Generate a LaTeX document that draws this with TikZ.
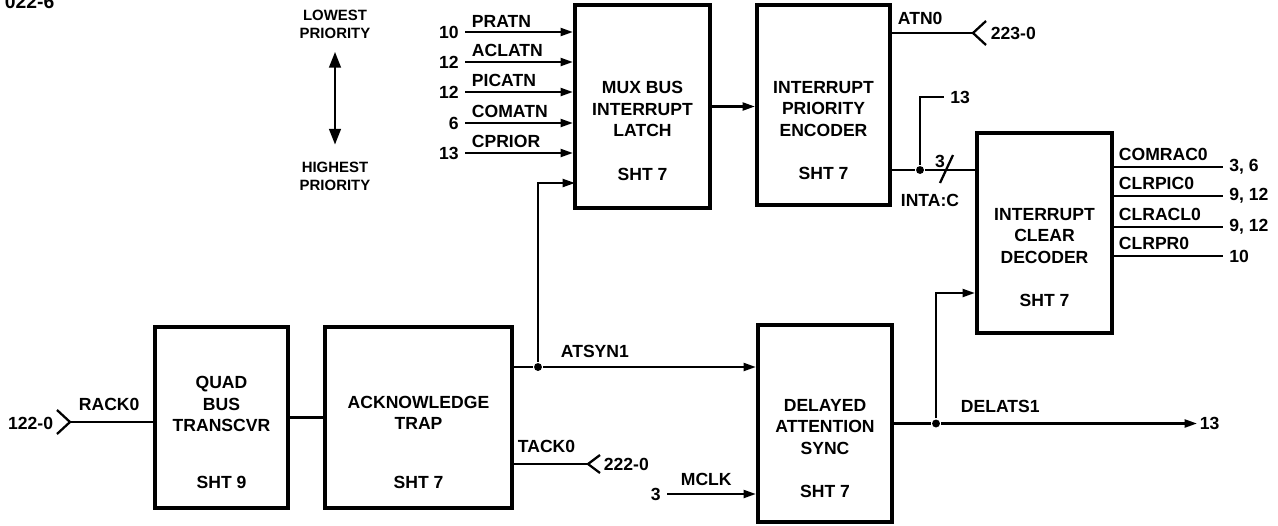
\documentclass[tikz,border=0pt]{standalone}
\usepackage{fontspec}
\setmainfont{Liberation Sans}
\usepackage{tikz}
\usetikzlibrary{arrows.meta}

\begin{document}
\begin{tikzpicture}[x=0.02cm,y=-0.02cm,
  >={Triangle[length=7pt,width=4.5pt]},
  line width=1.3pt,
  every node/.style={font=\fontsize{10}{12}\selectfont\bfseries, inner sep=1pt},
  blk/.style={draw, line width=2.4pt, inner sep=0pt},
  txt/.style={align=center},
  num/.style={inner xsep=3pt},
  prio/.style={align=center, font=\fontsize{8.5}{10.3}\selectfont\bfseries},
  dot/.style={circle, fill, inner sep=0pt, minimum size=4.5pt}]
  \useasboundingbox (0,0) rectangle (1278,525);

  \node[anchor=base west, font=\fontsize{11}{13}\selectfont\bfseries] (sheet) at (2,8) {022-6};

  % priority legend
  \node[prio] (low) at (335,24) {LOWEST\\PRIORITY};
  \node[prio] (high) at (335,176) {HIGHEST\\PRIORITY};
  \draw[{Triangle[length=9pt,width=6.5pt]}-{Triangle[length=9pt,width=6.5pt]},
    line width=1.6pt, shorten <=6pt, shorten >=8pt] (low) -- (high);

  % blocks
  \node[blk, minimum width=2.66cm, minimum height=3.62cm] (quad) at (221.5,417.5) {};
  \node[txt] (quadt) at (221.5,404) {QUAD\\BUS\\TRANSCVR};
  \node (quads) at (221.5,482) {SHT 9};

  \node[blk, minimum width=3.74cm, minimum height=3.62cm] (ack) at (418.5,417.5) {};
  \node[txt] (ackt) at (418.5,413) {ACKNOWLEDGE\\TRAP};
  \node (acks) at (418.5,482) {SHT 7};

  \node[blk, minimum width=2.7cm, minimum height=4.06cm] (mux) at (642.5,106.5) {};
  \node[txt] (muxt) at (642.5,109) {MUX BUS\\INTERRUPT\\LATCH};
  \node (muxs) at (642.5,174) {SHT 7};

  \node[blk, minimum width=2.66cm, minimum height=4cm] (enc) at (823.5,105) {};
  \node[txt] (enct) at (823.5,109) {INTERRUPT\\PRIORITY\\ENCODER};
  \node (encs) at (823.5,173) {SHT 7};

  \node[blk, minimum width=2.7cm, minimum height=4cm] (dec) at (1044.5,233) {};
  \node[txt] (dect) at (1044.5,236) {INTERRUPT\\CLEAR\\DECODER};
  \node (decs) at (1044.5,300) {SHT 7};

  \node[blk, minimum width=2.68cm, minimum height=3.94cm] (del) at (825,423.5) {};
  \node[txt] (delt) at (825,427) {DELAYED\\ATTENTION\\SYNC};
  \node (dels) at (825,491) {SHT 7};

  % RACK0 in
  \coordinate (c122) at (70,422);
  \node[anchor=east] (s122) at (56,423) {122-0};
  \draw (c122) ++(-13,-12) -- (c122) -- ++(-13,12);
  \draw (c122) -- (c122 -| quad.west);
  \node[anchor=south west] (rack) at (76,414) {RACK0};
  \draw (quad) -- (ack);

  % mux inputs
  \node[num, anchor=east] (i10) at (465,32) {10};
  \draw[->] (i10) -- (i10 -| mux.west);
  \node[anchor=south west] (pratn) at (469,30) {PRATN};
  \node[num, anchor=east] (i12a) at (465,62) {12};
  \draw[->] (i12a) -- (i12a -| mux.west);
  \node[anchor=south west] (aclatn) at (469,60) {ACLATN};
  \node[num, anchor=east] (i12b) at (465,92) {12};
  \draw[->] (i12b) -- (i12b -| mux.west);
  \node[anchor=south west] (picatn) at (469,90) {PICATN};
  \node[num, anchor=east] (i6) at (465,123) {6};
  \draw[->] (i6) -- (i6 -| mux.west);
  \node[anchor=south west] (comatn) at (469,121) {COMATN};
  \node[num, anchor=east] (i13) at (465,153) {13};
  \draw[->] (i13) -- (i13 -| mux.west);
  \node[anchor=south west] (cprior) at (469,151) {CPRIOR};
  \draw[->] (mux.east) -- (mux.east -| enc.west);

  % ATSYN1
  \node[dot] (jat) at (538,367) {};
  \coordinate (mxin) at (575,183);
  \draw (ack.east |- jat) -- (jat);
  \draw[->] (jat) -- (jat -| del.west);
  \draw[->] (jat) |- (mxin);
  \node[anchor=south west] (atsyn) at (558,361) {ATSYN1};

  % TACK0
  \coordinate (c222) at (588,464);
  \draw (ack.east |- c222) -- (c222);
  \draw (c222) ++(12,-9) -- (c222) -- ++(12,9);
  \node[anchor=west] (s222) at (601,464) {222-0};
  \node[anchor=south west] (tack) at (515,456) {TACK0};

  % MCLK
  \node[num, anchor=east] (m3) at (667,494) {3};
  \draw[->] (m3) -- (m3 -| del.west);
  \node[anchor=south west] (mclk) at (678,489) {MCLK};

  % DELATS1
  \node[dot] (jdl) at (936,423.5) {};
  \node[anchor=west] (o13) at (1197,423.5) {13};
  \coordinate (decin) at (dec.west |- 0,293);
  \draw (del.east) -- (jdl);
  \draw[->] (jdl) -- (o13);
  \draw[->] (jdl) |- (decin);
  \node[anchor=south west] (delats) at (958,416) {DELATS1};

  % ATN0
  \coordinate (c223) at (973,33);
  \draw (enc.east |- c223) -- (c223);
  \draw (c223) ++(13,-12) -- (c223) -- ++(13,12);
  \node[anchor=west] (s223) at (988,33) {223-0};
  \node[anchor=south west] (atn) at (895,28) {ATN0};

  % INTA:C
  \node[dot] (jint) at (920,170) {};
  \node[num, anchor=west] (o13b) at (944,97) {13};
  \draw (enc.east |- jint) -- (jint) -- (jint -| dec.west);
  \draw (jint) |- (o13b);
  \draw (jint) ++(20,13) -- ++(13,-28);
  \node (bw) at (940,161) {3};
  \node (inta) at (930,200) {INTA:C};

  % decoder outputs
  \node[num, anchor=west] (d1) at (1223,167) {3, 6};
  \draw (d1 -| dec.east) -- (d1);
  \node[anchor=south west] (comrac) at (1116,164) {COMRAC0};
  \node[num, anchor=west] (d2) at (1223,196) {9, 12};
  \draw (d2 -| dec.east) -- (d2);
  \node[anchor=south west] (clrpic) at (1116,193) {CLRPIC0};
  \node[num, anchor=west] (d3) at (1223,227) {9, 12};
  \draw (d3 -| dec.east) -- (d3);
  \node[anchor=south west] (clracl) at (1116,224) {CLRACL0};
  \node[num, anchor=west] (d4) at (1223,256) {10};
  \draw (d4 -| dec.east) -- (d4);
  \node[anchor=south west] (clrpr) at (1116,253) {CLRPR0};
\end{tikzpicture}
\end{document}
